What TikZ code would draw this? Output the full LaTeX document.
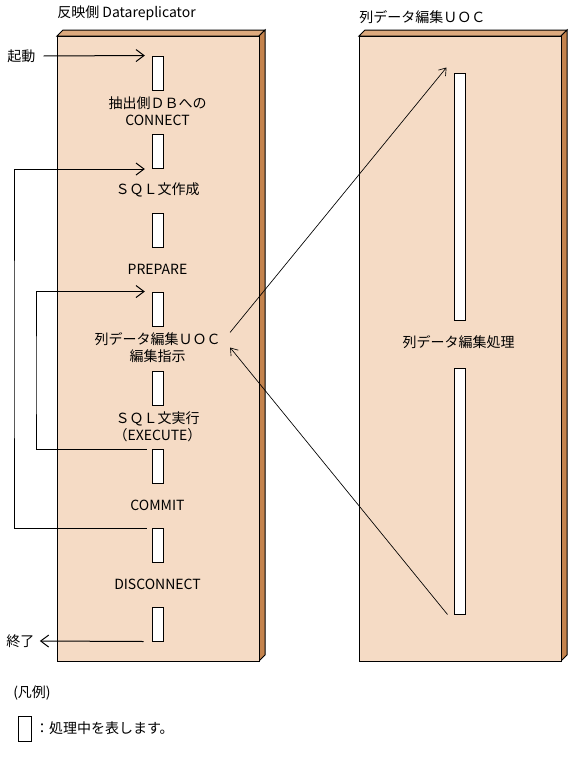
\documentclass[tikz,border=0pt]{standalone}
\usepackage{fontspec}
\setmainfont{Noto Sans CJK JP}
\usetikzlibrary{arrows.meta,positioning}
\definecolor{facecol}{HTML}{F5DBC5}
\definecolor{topcol}{HTML}{DDAA7E}
\definecolor{sidecol}{HTML}{C4834D}

\begin{document}
\begin{tikzpicture}[x=0.75pt,y=-0.75pt,
    actbar/.style={draw,fill=white,line width=0.75pt,minimum width=8.25pt,minimum height=25.5pt,inner sep=0pt},
    txt/.style={font=\fontsize{10.5}{12.5}\selectfont,align=center,inner sep=0pt},
    arr/.style={-{Straight Barb[length=6pt,width=9pt]},line width=0.75pt},
    darr/.style={-{Straight Barb[length=5pt,width=7pt]},line width=0.5pt}]
  \useasboundingbox (0,0) rectangle (570,757);
  % left box
  \filldraw[fill=topcol,line width=0.75pt](57,36)--(63,30)--(265,30)--(259,36)--cycle;
  \filldraw[fill=sidecol,line width=0.75pt](259,36)--(265,30)--(265,655)--(259,661)--cycle;
  \filldraw[fill=facecol,line width=0.75pt](57,36)rectangle(259,661);
  % right box
  \filldraw[fill=topcol,line width=0.75pt](359,36)--(365,30)--(567,30)--(561,36)--cycle;
  \filldraw[fill=sidecol,line width=0.75pt](561,36)--(567,30)--(567,655)--(561,661)--cycle;
  \filldraw[fill=facecol,line width=0.75pt](359,36)rectangle(561,661);
  \node[txt,anchor=west](ttl1) at (57,13){反映側 Datareplicator};
  \node[txt,anchor=west](ttl2) at (359,17){列データ編集ＵＯＣ};
  % activation bars
  \node[actbar](b1) at (157.5,73){};
  \node[actbar](b2) at (157.5,151.5){};
  \node[actbar](b3) at (157.5,230.5){};
  \node[actbar](b4) at (157.5,309){};
  \node[actbar](b5) at (157.5,388){};
  \node[actbar](b6) at (157.5,466.5){};
  \node[actbar](b7) at (157.5,545.5){};
  \node[actbar](b8) at (157.5,624){};
  \node[actbar,minimum height=185.25pt](bA) at (459.5,196.5){};
  \node[actbar,minimum height=184.5pt](bB) at (459.5,491){};
  % labels
  \node[txt](t1) at (157.5,111.5){抽出側ＤＢへの\\CONNECT};
  \node[txt](t2) at (157.5,190){ＳＱＬ文作成};
  \node[txt](t3) at (157.5,269){PREPARE};
  \node[txt](t4) at (157.5,347.5){列データ編集ＵＯＣ\\編集指示};
  \node[txt](t5) at (157.5,426.5){ＳＱＬ文実行\\（EXECUTE）};
  \node[txt](t6) at (157.5,505){COMMIT};
  \node[txt](t7) at (157.5,584){DISCONNECT};
  \node[txt](t8) at (458.5,342){列データ編集処理};
  \node[txt,anchor=west](start) at (7,56){起動};
  \node[txt,anchor=west](stop) at (6,641){終了};
  \coordinate(rail1) at (14,350);
  \coordinate(rail2) at (36,380);
  % connectors
  \draw[arr]([xshift=6pt]start.east)--([xshift=-5pt]b1.north west);
  \draw[arr]([xshift=-3.75pt]b7.north west)-|(rail1)|-([xshift=-5pt]b2.south west);
  \draw[arr]([xshift=-3.75pt]b6.north west)-|(rail2)|-([xshift=-5pt]b4.north west);
  \draw[arr]([xshift=-6pt]b8.south west)--([xshift=4pt]stop.east);
  \draw[darr]([xshift=7pt]t4.north east)--([xshift=-5.25pt,yshift=3.75pt]bA.north west);
  \draw[darr]([xshift=-4.5pt]bB.south west)--([xshift=7pt]t4.east);
  % legend
  \node[txt,anchor=west](lgd) at (13,693){(凡例)};
  \node[actbar,minimum width=9.75pt,minimum height=18.75pt](lgdbar) at (24.5,728.5){};
  \node[txt,right=2.5pt of lgdbar](lgdtxt){：処理中を表します。};
\end{tikzpicture}
\end{document}
